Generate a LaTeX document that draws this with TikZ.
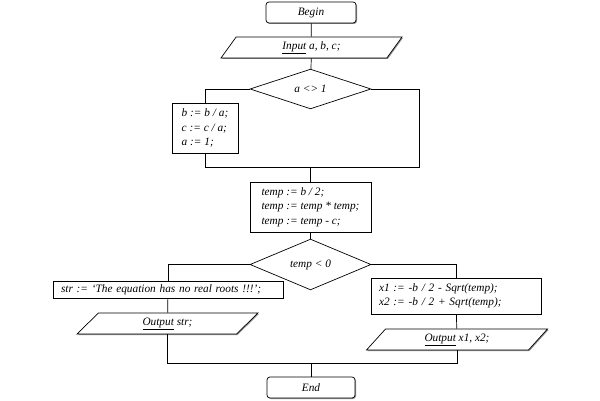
\documentclass[tikz,border=0pt]{standalone}
\usepackage{fontspec}
\setmainfont{Liberation Serif}
\usetikzlibrary{shapes.geometric,shadows}
\definecolor{ShadowGray}{RGB}{120,120,120}

\begin{document}
\begin{tikzpicture}[x=1pt,y=-1pt,line width=0.7pt,
    font=\fontsize{11.3}{14.5}\selectfont\itshape,
    terminal/.style={draw,rounded corners=3pt,minimum width=90pt,minimum height=21pt,
      inner sep=0pt,fill=white,drop shadow={shadow xshift=1pt,shadow yshift=-1pt,fill=ShadowGray,opacity=0.8}},
    io/.style={draw,trapezium,trapezium stretches body,minimum width=181pt,minimum height=21pt,
      inner sep=0pt,fill=white,drop shadow={shadow xshift=1pt,shadow yshift=-1pt,fill=ShadowGray,opacity=0.8}},
    cond/.style={draw,diamond,minimum width=121pt,minimum height=36pt,inner sep=0pt},
    stepbox/.style={draw,rectangle,align=left,inner xsep=8pt,inner ysep=0pt}]
  \useasboundingbox (0,0) rectangle (600,401);
  % top part
  \node[terminal] (begin) at (311,12.5) {Begin};
  \node[io,trapezium left angle=39,trapezium right angle=141] (input) at (311.5,47.5) {\underline{Input} a, b, c;};
  \node[cond] (check) at (310.5,89) {a <> 1};
  \node[stepbox,minimum width=66pt,minimum height=50pt] (norm) at (205,128)
    {b := b / a;\\ c := c / a;\\ a := 1;};
  \node[stepbox,minimum width=121pt,minimum height=50pt] (temp) at (310.5,207)
    {temp := b / 2;\\ temp := temp * temp;\\ temp := temp - c;};
  \coordinate (skip) at (419,89);
  \coordinate (join) at (310.5,167);
  \draw (begin) -- (input);
  \draw (input) -- (check);
  \draw (check.west) -| (norm.north);
  \draw (norm.south) |- (join);
  \draw (check.east) -- (skip) |- (join);
  \draw (join) -- (temp);
  % bottom part
  \node[cond,minimum height=35pt] (sign) at (310.5,264.5) {temp < 0};
  \node[stepbox,text width=214pt,minimum height=17pt] (noroot) at (168,289.5)
    {str := `The equation has no real roots !!!';};
  \node[io,trapezium left angle=29,trapezium right angle=151] (outstr) at (167.5,323.5) {\underline{Output} str;};
  \node[stepbox,text width=154pt,minimum height=36pt] (roots) at (456,296)
    {x1 := -b / 2 - Sqrt(temp);\\ x2 := -b / 2 + Sqrt(temp);};
  \node[io,trapezium left angle=32,trapezium right angle=148] (outroots) at (457,339.5) {\underline{Output} x1, x2;};
  \node[terminal,minimum width=88pt] (end) at (311,387.5) {End};
  \coordinate (merge) at (311,363);
  \draw (temp) -- (sign);
  \draw (sign.west) -| (noroot.north);
  \draw (noroot) -- (outstr);
  \draw (outstr.south) |- (merge);
  \draw (sign.east) -| (roots.north);
  \draw (roots) -- (outroots);
  \draw (outroots.south) |- (merge);
  \draw (merge) -- (end);
\end{tikzpicture}
\end{document}
